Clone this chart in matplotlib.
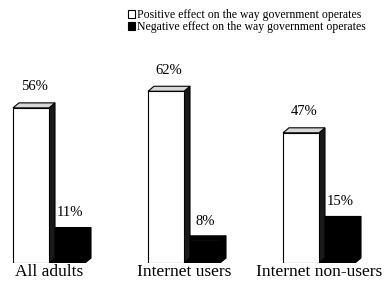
import numpy as np
import matplotlib
matplotlib.use("Agg")
import matplotlib.pyplot as plt
from matplotlib.patches import Polygon, Patch

plt.rcParams['font.family'] = ['Liberation Serif', 'DejaVu Serif']

categories = ["All adults", "Internet users", "Internet non-users"]
positive = [56, 62, 47]
negative = [11, 8, 15]
series_labels = ["Positive effect on the way government operates",
                 "Negative effect on the way government operates"]

W, H = 384, 281
fig = plt.figure(figsize=(W / 100, H / 100), dpi=100)

# axes: baseline at 263 px from top, 135 px between groups
base_px = 263
px_per_pct = 2.77
ax = fig.add_axes([0, (H - base_px) / H, 1, base_px / H])
ax.set_ylim(0, base_px / px_per_pct)
spacing = 135.0
ax.set_xlim(-49 / spacing, (W - 49) / spacing)

bw = 36 / spacing          # bar width in data units
dx = 6 / spacing           # depth offset x
dy = 5 / px_per_pct        # depth offset y


def bar3d(x0, h, face, side, top, edge, lw=0.8, z=2):
    x1 = x0 + bw
    # side face
    ax.add_patch(Polygon([(x1, 0), (x1 + dx, dy), (x1 + dx, h + dy), (x1, h)],
                         closed=True, facecolor=side, edgecolor=edge, lw=lw, zorder=z))
    # top face
    ax.add_patch(Polygon([(x0, h), (x0 + dx, h + dy), (x1 + dx, h + dy), (x1, h)],
                         closed=True, facecolor=top, edgecolor=edge, lw=lw, zorder=z))
    # front face
    ax.bar(x0, h, width=bw, align='edge', color=face, edgecolor=edge, lw=lw, zorder=z + 0.5)


x = np.arange(len(categories))
for i in x:
    # black bar behind
    bar3d(i, negative[i], 'black', 'black', 'black', 'black', z=2)
    # white bar in front
    bar3d(i - bw, positive[i], 'white', '#1a1a1a', '#d8d8d8', 'black', z=3)

    ax.annotate(f"{positive[i]}%", (i - bw / 2 + dx / 2, positive[i] + dy),
                xytext=(0, 9), textcoords='offset points',
                ha='center', va='baseline', fontsize=10.5)
    ax.annotate(f"{negative[i]}%", (i + bw / 2 + dx / 2, negative[i] + dy),
                xytext=(0, 8), textcoords='offset points',
                ha='center', va='baseline', fontsize=10.5)

ax.set_xticks(x)
ax.set_xticklabels(categories, fontsize=12.5)
ax.tick_params(axis='x', length=0, pad=0.5)
ax.set_yticks([])
for s in ax.spines.values():
    s.set_visible(False)

handles = [Patch(facecolor='white', edgecolor='black', lw=0.8),
           Patch(facecolor='black', edgecolor='black', lw=0.8)]
fig.legend(handles, series_labels, loc='upper left', bbox_to_anchor=(128 / W, 1 - 9 / H),
           frameon=False, fontsize=8.5, handlelength=0.6, handleheight=0.6,
           handletextpad=0.15, labelspacing=0.0, borderpad=0, borderaxespad=0)

fig.savefig("out.png", dpi=100)
